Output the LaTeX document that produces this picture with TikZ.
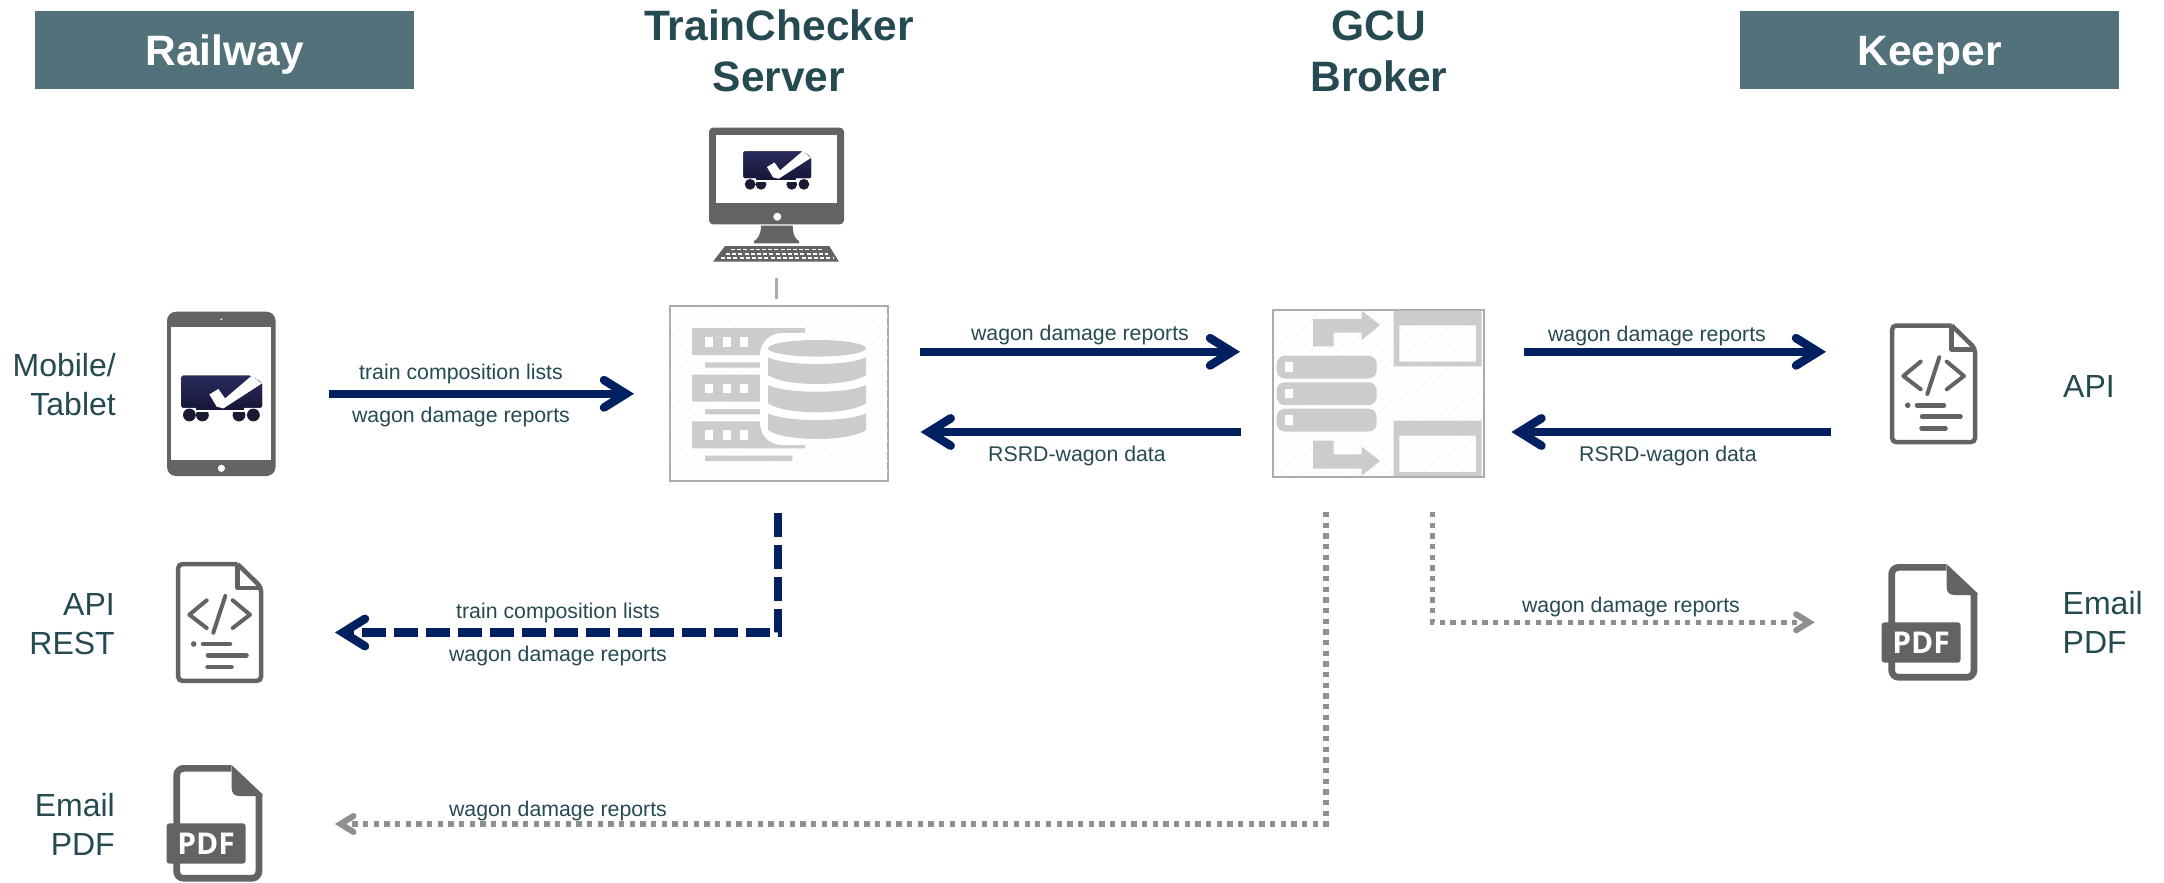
\documentclass[tikz,border=0pt]{standalone}
\usepackage{fontspec}
\setmainfont{Liberation Sans}
\newfontfamily\pdffont{Open Sans}
\usetikzlibrary{arrows.meta}
\definecolor{navy}{HTML}{002060}
\definecolor{txt}{HTML}{254A52}
\definecolor{hdr}{HTML}{52717B}
\definecolor{icon}{HTML}{636363}
\definecolor{pale}{HTML}{CCCCCC}
\definecolor{edge}{HTML}{ABABAB}
\definecolor{dot}{HTML}{8F8F8F}
\definecolor{hatch}{HTML}{F9F9F9}
\definecolor{wagtop}{HTML}{2B2B5E}
\definecolor{wagbot}{HTML}{17173A}
\definecolor{wheel}{HTML}{1A1A33}
\pgfdeclarearrow{
  name=BigChev,
  setup code={\pgfarrowssettipend{0pt}\pgfarrowssetlineend{-12pt}\pgfarrowssetvisualbackend{-12pt}\pgfarrowssetbackend{-34pt}},
  drawing code={\pgfsetdash{}{0pt}\pgfsetlinewidth{8.5pt}\pgfsetroundcap\pgfsetmiterjoin\pgfsetmiterlimit{10}%
    \pgfpathmoveto{\pgfqpoint{-30pt}{13.7pt}}\pgfpathlineto{\pgfqpoint{-8pt}{0pt}}\pgfpathlineto{\pgfqpoint{-30pt}{-13.7pt}}\pgfusepathqstroke}
}
\pgfdeclarearrow{
  name=SmallChev,
  setup code={\pgfarrowssettipend{0pt}\pgfarrowssetlineend{-8pt}\pgfarrowssetvisualbackend{-8pt}\pgfarrowssetbackend{-22pt}},
  drawing code={\pgfsetdash{}{0pt}\pgfsetlinewidth{6pt}\pgfsetroundcap\pgfsetmiterjoin\pgfsetmiterlimit{10}%
    \pgfpathmoveto{\pgfqpoint{-18.5pt}{8pt}}\pgfpathlineto{\pgfqpoint{-5.6pt}{0pt}}\pgfpathlineto{\pgfqpoint{-18.5pt}{-8pt}}\pgfusepathqstroke}
}
\tikzset{
  header/.style={fill=hdr,text=white,font=\fontsize{42.5}{51}\selectfont\bfseries,minimum width=379.5pt,minimum height=78pt,inner sep=0pt,text height=31pt,text depth=0pt},
  title/.style={text=txt,font=\fontsize{42.5}{51}\selectfont\bfseries,align=center,inner sep=0pt},
  side/.style={text=txt,font=\fontsize{32}{39}\selectfont,inner sep=0pt},
  lab/.style={text=txt,font=\fontsize{21.3}{25}\selectfont,inner sep=0pt},
  panel/.style={draw=edge,line width=2pt,fill=white,inner sep=0pt},
  solidlink/.style={draw=navy,line width=8.5pt,-BigChev},
  dashlink/.style={draw=navy,line width=8.5pt,dash pattern=on 24pt off 8pt,-BigChev},
  dotlink/.style={draw=dot,line width=5.3pt,dash pattern=on 5.3pt off 5.37pt,-SmallChev},
}
\newcommand{\wagonicon}[3]{%
\begin{scope}[shift={(#1,#2)},scale=#3]
  \fill[wheel] (-32,39.3) circle[radius=6.4] (-19,39.3) circle[radius=6.4] (17.6,39.3) circle[radius=6.4] (32,39.3) circle[radius=6.4];
  \fill[white] (-26.5,32) rectangle (25,36.5);
  \fill[rounded corners=1.5pt,top color=wagtop,bottom color=wagbot] (-40,0) -- (29.5,0) -- (40.6,7) -- (40.6,32) -- (-40,32) -- cycle;
  \fill[wagbot] (-25,31) rectangle (23,34.6);
  \fill[white] (-12,18.7) -- (-3,13.3) -- (3.7,22.7) -- (30.3,0) -- (40.6,7.7) -- (2,32.7) -- (-4.7,31) -- cycle;
\end{scope}}
\newcommand{\docicon}[2]{%
\begin{scope}[shift={(#1,#2)}]
  \draw[icon,line width=4.5pt,rounded corners=4pt] (61.7,2.2) -- (2.2,2.2) -- (2.2,118.8) -- (85,118.8) -- (85,25) {[sharp corners] -- (61.7,2.2)};
  \draw[icon,line width=4.5pt,line join=round] (61.7,2.2) -- (61.7,26) -- (85,26);
  \draw[icon,line width=4pt,line cap=round,line join=round] (30.7,38.3) -- (13.3,52.7) -- (30.7,66) (56.7,38.3) -- (74,52.7) -- (56.7,66) (49.3,34) -- (37.3,70.7);
  \fill[icon] (17.7,82) circle[radius=2.8];
  \draw[icon,line width=4.5pt,line cap=round] (27,82) -- (54,82) (32,93.3) -- (70.5,93.3) (31.5,105) -- (55.5,105);
\end{scope}}
\newcommand{\pdficon}[3]{%
\begin{scope}[shift={(#1,#2)}]
  \draw[icon,line width=6.7pt,rounded corners=7pt] (58,3.35) -- (3.35,3.35) -- (3.35,113.3) -- (85.6,113.3) -- (85.6,29);
  \fill[icon] (58.3,0) -- (89,29) -- (89,31) -- (66,31) .. controls (61,31) and (58.3,28) .. (58.3,23) -- cycle;
  \fill[icon,rounded corners=3pt] (-6.7,58.3) rectangle (72.3,98.7);
  \node[text=white,font=\fontsize{30}{31}\selectfont\pdffont\bfseries,inner sep=0pt] (#3) at (32.8,78.5) {PDF};
\end{scope}}
\newcommand{\hatchin}[4]{%
\begin{scope}
  \clip (#1,#2) rectangle (#3,#4);
  \foreach \k in {0,9,...,450}{\draw[hatch,line width=1pt] (#1+\k-150,#4) -- (#1+\k,#2-0);}
\end{scope}}
\begin{document}
\begin{tikzpicture}[x=1pt,y=-1pt]
\useasboundingbox (0,0) rectangle (2164,883);
% headers
\node[header] (railway) at (224.5,50) {Railway};
\node[header] (keeper) at (1929.5,50) {Keeper};
\node[title] (tcs) at (779,51) {TrainChecker\\Server};
\node[title] (gcu) at (1379,51) {GCU\\Broker};
% side labels
\node[side,align=right,anchor=east] (mobile) at (116,385) {Mobile/\\Tablet};
\node[side,align=right,anchor=east] (apirest) at (115,624) {API\\REST};
\node[side,align=right,anchor=east] (emaill) at (115,824) {Email\\PDF};
\node[side] (apir) at (2089,386) {API};
\node[side,align=left,anchor=west] (emailr) at (2062.5,622) {Email\\PDF};
% tablet
\fill[icon,rounded corners=9pt] (167,311.7) rectangle (275.5,476);
\fill[white] (171.4,327) rectangle (271.4,460.3);
\fill[white] (221.4,319.3) circle[radius=1];
\fill[white] (221.4,468.3) circle[radius=3.6];
\wagonicon{221.4}{375.7}{1}
% monitor
\fill[icon,rounded corners=4pt] (709,127.7) rectangle (844,224.3);
\fill[white] (716.3,135.3) rectangle (837,203.3);
\fill[white] (777.3,216.7) circle[radius=4];
\fill[icon] (761,225.7) -- (792.7,225.7) .. controls (792.7,234) and (795,239) .. (799,241) -- (799,243.3) -- (754,243.3) -- (754,241) .. controls (758,239) and (761,234) .. (761,225.7) -- cycle;
\fill[icon] (725,246) -- (829.3,246) -- (839,261.7) -- (713,261.7) -- cycle;
\draw[white,line width=1.3pt,dash pattern=on 4pt off 2.2pt] (731,249.6) -- (822,249.6) (726,253.9) -- (828,253.9) (721,258) -- (833,258);
\wagonicon{777}{151.3}{0.84}
% server panel
\node[panel,minimum width=218.5pt,minimum height=174.7pt] (server) at (779,393.5) {};
\hatchin{670.5}{307}{887.5}{479.5}
\foreach \y in {328,374.7,421.3}{
  \fill[pale,rounded corners=1pt] (692,\y) rectangle (805,\y+27);
  \foreach \x in {705,722.7,740}{\fill[white] (\x,\y+9) rectangle (\x+8.3,\y+18.5);}
}
\fill[pale] (705,362.3) rectangle (770,367.7) (705,409) rectangle (770,414.3) (705,455.7) rectangle (792.3,461);
\fill[white,rounded corners=22pt] (760,333) rectangle (874,445);
\fill[pale] (817,348.3) ellipse[x radius=49,y radius=8.3];
\foreach \t/\b in {357.3/375,385/403.3,413.3/430}{
  \fill[pale] (768,\t) .. controls (785,\t+9) and (849,\t+9) .. (866,\t) -- (866,\b) .. controls (849,\b+12) and (785,\b+12) .. (768,\b) -- cycle;
}
% broker panel
\node[panel,minimum width=211pt,minimum height=166.7pt] (broker) at (1378.8,393.3) {};
\hatchin{1274.5}{311}{1483}{475.5}
\fill[pale,even odd rule] (1393.7,310.7) rectangle (1481.7,366.3) (1399.3,325.3) rectangle (1476,361.7);
\fill[pale,even odd rule] (1393.7,420.7) rectangle (1481.7,476) (1399.3,435.7) rectangle (1476,472);
\foreach \y in {355.7,382.3,408.7}{
  \fill[pale,rounded corners=8pt] (1276.7,\y) rectangle (1376.7,\y+22.8);
  \fill[white] (1285,\y+6.7) rectangle (1293.3,\y+16);
}
\fill[pale] (1313,319) -- (1361.7,319) -- (1361.7,310.7) -- (1380,325) -- (1361.7,340) -- (1361.7,332.7) -- (1333.7,332.7) -- (1333.7,346.3) -- (1313,346.3) -- cycle;
\fill[pale] (1313,440.7) -- (1333.7,440.7) -- (1333.7,454.3) -- (1361.7,454.3) -- (1361.7,446.7) -- (1380,461) -- (1361.7,475.7) -- (1361.7,468.7) -- (1313,468.7) -- cycle;
% documents
\docicon{1890}{323.3}
\docicon{176}{562}
\pdficon{1888.3}{564}{pdfr}
\pdficon{173.3}{765}{pdfl}
% connector ends
\coordinate (mon) at (776.7,278.3);
\coordinate (srvtop) at (776.7,299.3);
\coordinate (a1s) at (329,393.8); \coordinate (a1e) at (634,393.8);
\coordinate (a2s) at (920,351.8); \coordinate (a2e) at (1240,351.8);
\coordinate (a3s) at (1240.7,432); \coordinate (a3e) at (920.7,432);
\coordinate (a4s) at (1523.5,351.8); \coordinate (a4e) at (1826,351.8);
\coordinate (a5s) at (1831,432); \coordinate (a5e) at (1511.5,432);
\coordinate (d1s) at (778,513); \coordinate (d1c) at (778,632.5); \coordinate (d1e) at (335,632.5);
\coordinate (d2s) at (1326,512); \coordinate (d2c) at (1326,824); \coordinate (d2e) at (335,824);
\coordinate (d3s) at (1432.7,512); \coordinate (d3c) at (1432.7,622.3); \coordinate (d3e) at (1814.6,622.3);
% connectors
\draw[edge,line width=2.5pt] (mon) -- (srvtop);
\draw[solidlink] (a1s) -- (a1e);
\draw[solidlink] (a2s) -- (a2e);
\draw[solidlink] (a3s) -- (a3e);
\draw[solidlink] (a4s) -- (a4e);
\draw[solidlink] (a5s) -- (a5e);
\draw[dashlink] (d1s) -- (d1c) -- (d1e);
\draw[dotlink] (d2s) -- (d2c) -- (d2e);
\draw[dotlink] (d3s) -- (d3c) -- (d3e);
% labels
\node[lab] (l1) at (461,374) {train composition lists};
\node[lab] (l2) at (461,417) {wagon damage reports};
\node[lab] (l3) at (1080,335) {wagon damage reports};
\node[lab] (l4) at (1077,456) {RSRD-wagon data};
\node[lab] (l5) at (1657,336) {wagon damage reports};
\node[lab] (l6) at (1668,456) {RSRD-wagon data};
\node[lab] (l7) at (558,613) {train composition lists};
\node[lab] (l8) at (558,656) {wagon damage reports};
\node[lab] (l9) at (558,811) {wagon damage reports};
\node[lab] (l10) at (1631,607) {wagon damage reports};
\end{tikzpicture}
\end{document}
